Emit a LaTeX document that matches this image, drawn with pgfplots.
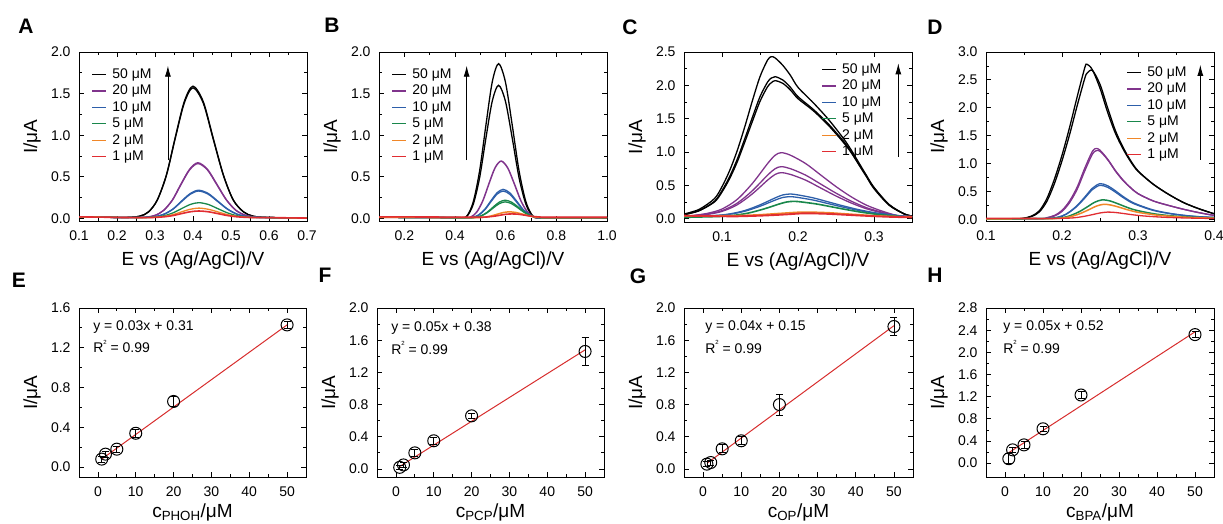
\documentclass[border=0pt]{standalone}
\usepackage{pgfplots}
\pgfplotsset{compat=1.18}
\usepackage{fontspec}
\setmainfont{Liberation Sans}
\usetikzlibrary{arrows.meta}
\definecolor{cpur}{RGB}{128,52,140}
\definecolor{cblu}{RGB}{45,95,170}
\definecolor{cgre}{RGB}{25,135,75}
\definecolor{cora}{RGB}{240,135,40}
\definecolor{cred}{RGB}{225,45,50}
\definecolor{fitred}{RGB}{215,45,45}
\pgfplotsset{
  panel/.style={
    scale only axis, width=228pt, height=169pt,
    axis line style={line width=0.9pt},
    tick align=inside, xtick pos=both, ytick pos=both,
    major tick length=5pt, minor tick length=3pt, minor tick num=1,
    tick style={line width=0.8pt, black},
    ticklabel style={font=\fontsize{14}{15}\selectfont},
    /pgf/number format/assume math mode=true,
    scaled ticks=false, enlargelimits=false,
    label style={font=\fontsize{19}{21}\selectfont},
    xlabel style={at={([yshift=-44pt]rel axis cs:0.5,0)}, anchor=base},
    ylabel style={at={([xshift=-47pt]rel axis cs:0,0.5)}, anchor=center},
    xticklabel style={yshift=-6.3pt},
    yticklabel style={xshift=-5pt, /pgf/number format/.cd, fixed, fixed zerofill, precision=1},
    legend style={draw=none, fill=none, anchor=north west,
      font=\fontsize{14}{15}\selectfont, inner xsep=0pt, inner ysep=0pt,
      row sep=1.7pt, column sep=4pt,
      nodes={inner sep=1.5pt, text height=9.7pt, text depth=2pt}},
    legend cell align=left,
    legend image code/.code={\draw[#1, line width=1.2pt] (0pt,0pt) -- (14pt,0pt);},
  },
  dpv/.style={panel, xlabel={E vs (Ag/AgCl)/V},
    xticklabel style={/pgf/number format/.cd, fixed, fixed zerofill, precision=1},
    ylabel={I/μA}},
  cal/.style={panel, ylabel={I/μA}, xmin=-5, xmax=55, xtick={0,10,20,30,40,50},
    xlabel style={at={([yshift=-40.5pt]rel axis cs:0.5,0)}, anchor=base},
    xticklabel style={/pgf/number format/.cd, fixed, precision=0}},
  cv/.style={smooth, line width=1.3pt, forget plot},
  pts/.style={only marks, mark=o, mark size=6pt, black, mark options={line width=1pt},
    error bars/.cd, y dir=both, y explicit,
    error bar style={line width=0.8pt, black},
    error mark options={rotate=90, mark size=3.5pt, line width=0.8pt, black}},
  fit/.style={fitred, line width=1pt, no marks},
}
\newcommand{\legsix}{%
  \addlegendimage{black}\addlegendentry{50 μM}
  \addlegendimage{cpur}\addlegendentry{20 μM}
  \addlegendimage{cblu}\addlegendentry{10 μM}
  \addlegendimage{cgre}\addlegendentry{5 μM}
  \addlegendimage{cora}\addlegendentry{2 μM}
  \addlegendimage{cred}\addlegendentry{1 μM}}
\newcommand{\Rsq}{R\raisebox{0.6em}{\fontsize{6}{6}\selectfont 2} = 0.99}
\begin{document}
\begin{tikzpicture}
\path[use as bounding box] (0,0) rectangle (1223pt,523pt);
% letters
\begin{scope}[every node/.style={font=\fontsize{21}{22}\selectfont\bfseries, anchor=center, inner sep=0pt}]
\node at (26pt,497pt) {A};
\node at (332pt,498pt) {B};
\node at (630pt,496pt) {C};
\node at (935pt,496pt) {D};
\node at (19pt,243pt) {E};
\node at (325pt,247.5pt) {F};
\node at (638pt,246.5pt) {G};
\node at (935pt,247.5pt) {H};
\end{scope}

% ---------------- A ----------------
\begin{axis}[dpv, at={(79pt,302pt)}, anchor=south west,
  xmin=0.1, xmax=0.7, ymin=-0.03, ymax=2.0,
  xtick={0.1,0.2,0.3,0.4,0.5,0.6,0.7}, ytick={0,0.5,1,1.5,2},
  legend style={at={(0.055,0.911)}}]
\legsix
\addplot[cv, black] coordinates {(0.100,0.020)(0.160,0.016)(0.220,0.012)(0.259,0.027)(0.283,0.080)(0.306,0.223)(0.330,0.524)(0.353,0.969)(0.377,1.404)(0.400,1.590)(0.427,1.404)(0.453,0.969)(0.480,0.524)(0.506,0.223)(0.533,0.080)(0.559,0.027)(0.600,0.012)(0.700,0.005)};
\addplot[cv, black] coordinates {(0.100,0.020)(0.160,0.016)(0.220,0.012)(0.259,0.027)(0.283,0.079)(0.306,0.221)(0.330,0.517)(0.353,0.957)(0.377,1.386)(0.400,1.570)(0.427,1.386)(0.453,0.957)(0.480,0.517)(0.506,0.221)(0.533,0.079)(0.559,0.027)(0.600,0.012)(0.700,0.005)};
\addplot[cv, cpur] coordinates {(0.100,0.020)(0.160,0.016)(0.240,0.011)(0.278,0.017)(0.301,0.039)(0.323,0.099)(0.346,0.225)(0.368,0.411)(0.391,0.592)(0.413,0.670)(0.438,0.592)(0.463,0.411)(0.488,0.225)(0.513,0.099)(0.538,0.039)(0.563,0.017)(0.600,0.011)(0.700,0.005)};
\addplot[cv, cpur] coordinates {(0.100,0.020)(0.160,0.016)(0.240,0.011)(0.278,0.017)(0.301,0.039)(0.323,0.098)(0.346,0.221)(0.368,0.404)(0.391,0.583)(0.413,0.660)(0.438,0.583)(0.463,0.404)(0.488,0.221)(0.513,0.098)(0.538,0.039)(0.563,0.017)(0.600,0.011)(0.700,0.005)};
\addplot[cv, cblu] coordinates {(0.100,0.020)(0.160,0.016)(0.240,0.011)(0.280,0.014)(0.303,0.025)(0.325,0.055)(0.348,0.117)(0.370,0.210)(0.393,0.301)(0.415,0.340)(0.440,0.301)(0.465,0.210)(0.490,0.117)(0.515,0.055)(0.540,0.025)(0.565,0.014)(0.600,0.011)(0.700,0.005)};
\addplot[cv, cblu] coordinates {(0.100,0.020)(0.160,0.016)(0.240,0.011)(0.280,0.014)(0.303,0.024)(0.325,0.053)(0.348,0.114)(0.370,0.204)(0.393,0.292)(0.415,0.330)(0.440,0.292)(0.465,0.204)(0.490,0.114)(0.515,0.053)(0.540,0.024)(0.565,0.014)(0.600,0.011)(0.700,0.005)};
\addplot[cv, cgre] coordinates {(0.100,0.020)(0.160,0.016)(0.240,0.011)(0.280,0.012)(0.303,0.018)(0.325,0.034)(0.348,0.069)(0.370,0.119)(0.393,0.169)(0.415,0.190)(0.440,0.169)(0.465,0.119)(0.490,0.069)(0.515,0.034)(0.540,0.018)(0.565,0.012)(0.600,0.011)(0.700,0.005)};
\addplot[cv, cora] coordinates {(0.100,0.020)(0.160,0.016)(0.240,0.011)(0.280,0.011)(0.303,0.015)(0.325,0.026)(0.348,0.047)(0.370,0.080)(0.393,0.111)(0.415,0.125)(0.440,0.111)(0.465,0.080)(0.490,0.047)(0.515,0.026)(0.540,0.015)(0.565,0.011)(0.600,0.011)(0.700,0.005)};
\addplot[cv, cred, line width=1.6pt] coordinates {(0.100,0.020)(0.160,0.016)(0.240,0.011)(0.280,0.011)(0.303,0.014)(0.325,0.021)(0.348,0.036)(0.370,0.059)(0.393,0.081)(0.415,0.090)(0.440,0.081)(0.465,0.059)(0.490,0.036)(0.515,0.021)(0.540,0.014)(0.565,0.011)(0.600,0.011)(0.700,0.005)};
\draw[-{Latex[length=11pt,width=6pt]}, line width=0.8pt] (axis cs:0.334,0.70) -- (axis cs:0.334,1.835);
\end{axis}

% ---------------- B ----------------
\begin{axis}[dpv, at={(379pt,302pt)}, anchor=south west,
  xmin=0.1, xmax=1.0, ymin=-0.03, ymax=2.0,
  xtick={0.2,0.4,0.6,0.8,1.0}, ytick={0,0.5,1,1.5,2},
  legend style={at={(0.055,0.911)}}]
\legsix
\addplot[cv, black] coordinates {(0.100,0.015)(0.300,0.012)(0.422,0.010)(0.447,0.030)(0.472,0.200)(0.497,0.570)(0.522,1.120)(0.547,1.640)(0.572,1.860)(0.599,1.640)(0.626,1.120)(0.653,0.570)(0.680,0.200)(0.707,0.030)(0.734,0.010)(0.850,0.010)(1.000,0.010)};
\addplot[cv, black] coordinates {(0.100,0.015)(0.300,0.012)(0.422,0.010)(0.447,0.026)(0.472,0.170)(0.497,0.487)(0.522,0.964)(0.547,1.409)(0.572,1.600)(0.599,1.409)(0.626,0.964)(0.653,0.487)(0.680,0.170)(0.707,0.026)(0.734,0.010)(0.850,0.010)(1.000,0.010)};
\addplot[cv, cpur, line width=1.5pt] coordinates {(0.100,0.015)(0.300,0.012)(0.438,0.010)(0.462,0.017)(0.486,0.078)(0.510,0.214)(0.534,0.418)(0.558,0.608)(0.582,0.690)(0.608,0.608)(0.634,0.418)(0.660,0.214)(0.686,0.078)(0.712,0.017)(0.738,0.010)(0.850,0.010)(1.000,0.010)};
\addplot[cv, cblu] coordinates {(0.100,0.015)(0.300,0.012)(0.446,0.010)(0.470,0.013)(0.494,0.044)(0.518,0.112)(0.542,0.214)(0.566,0.309)(0.590,0.350)(0.616,0.309)(0.642,0.214)(0.668,0.112)(0.694,0.044)(0.720,0.013)(0.746,0.010)(0.850,0.010)(1.000,0.010)};
\addplot[cv, cblu] coordinates {(0.100,0.015)(0.300,0.012)(0.446,0.010)(0.470,0.013)(0.494,0.042)(0.518,0.106)(0.542,0.202)(0.566,0.292)(0.590,0.330)(0.616,0.292)(0.642,0.202)(0.668,0.106)(0.694,0.042)(0.720,0.013)(0.746,0.010)(0.850,0.010)(1.000,0.010)};
\addplot[cv, cgre] coordinates {(0.100,0.015)(0.300,0.012)(0.454,0.010)(0.478,0.012)(0.502,0.031)(0.526,0.073)(0.550,0.136)(0.574,0.195)(0.598,0.220)(0.624,0.195)(0.650,0.136)(0.676,0.073)(0.702,0.031)(0.728,0.012)(0.754,0.010)(0.850,0.010)(1.000,0.010)};
\addplot[cv, cgre] coordinates {(0.100,0.015)(0.300,0.012)(0.454,0.010)(0.478,0.012)(0.502,0.029)(0.526,0.067)(0.550,0.124)(0.574,0.177)(0.598,0.200)(0.624,0.177)(0.650,0.124)(0.676,0.067)(0.702,0.029)(0.728,0.012)(0.754,0.010)(0.850,0.010)(1.000,0.010)};
\addplot[cv, cora, line width=1.5pt] coordinates {(0.100,0.015)(0.300,0.012)(0.471,0.010)(0.495,0.011)(0.519,0.017)(0.543,0.031)(0.567,0.052)(0.591,0.072)(0.615,0.080)(0.641,0.072)(0.667,0.052)(0.693,0.031)(0.719,0.017)(0.745,0.011)(0.771,0.010)(0.850,0.010)(1.000,0.010)};
\addplot[cv, cred, line width=1.6pt] coordinates {(0.100,0.020)(0.300,0.018)(0.481,0.015)(0.505,0.015)(0.529,0.019)(0.553,0.027)(0.577,0.039)(0.601,0.051)(0.625,0.055)(0.651,0.051)(0.677,0.039)(0.703,0.027)(0.729,0.019)(0.755,0.015)(0.781,0.015)(0.850,0.015)(1.000,0.015)};
\draw[-{Latex[length=11pt,width=6pt]}, line width=0.8pt] (axis cs:0.446,0.70) -- (axis cs:0.446,1.835);
\end{axis}

% ---------------- C ----------------
\begin{axis}[dpv, at={(684pt,301pt)}, anchor=south west, height=170pt,
  xmin=0.05, xmax=0.35, ymin=-0.05, ymax=2.5,
  xtick={0.1,0.2,0.3}, ytick={0,0.5,1,1.5,2,2.5},
  legend style={at={(0.602,0.941)}}]
\legsix
\addplot[cv, black] coordinates {(0.05,0.07)(0.07,0.14)(0.09,0.30)(0.10,0.48)(0.11,0.72)(0.12,1.02)(0.13,1.38)(0.14,1.77)(0.15,2.13)(0.16,2.38)(0.165,2.43)(0.17,2.41)(0.18,2.30)(0.19,2.15)(0.20,1.97)(0.22,1.74)(0.24,1.49)(0.26,1.20)(0.27,1.03)(0.28,0.84)(0.29,0.65)(0.30,0.47)(0.32,0.21)(0.34,0.07)(0.35,0.04)};
\addplot[cv, black] coordinates {(0.05,0.06)(0.07,0.12)(0.09,0.26)(0.10,0.42)(0.11,0.63)(0.12,0.89)(0.13,1.20)(0.14,1.52)(0.15,1.83)(0.16,2.05)(0.165,2.11)(0.17,2.13)(0.18,2.08)(0.19,1.97)(0.20,1.83)(0.22,1.64)(0.24,1.42)(0.26,1.16)(0.27,1.00)(0.28,0.82)(0.29,0.64)(0.30,0.46)(0.32,0.21)(0.34,0.07)(0.35,0.04)};
\addplot[cv, black] coordinates {(0.05,0.06)(0.07,0.12)(0.09,0.25)(0.10,0.40)(0.11,0.60)(0.12,0.85)(0.13,1.15)(0.14,1.46)(0.15,1.76)(0.16,1.98)(0.165,2.04)(0.17,2.07)(0.18,2.03)(0.19,1.93)(0.20,1.80)(0.22,1.62)(0.24,1.40)(0.26,1.14)(0.27,0.99)(0.28,0.81)(0.29,0.63)(0.30,0.45)(0.32,0.20)(0.34,0.07)(0.35,0.04)};
\addplot[cv, cpur] coordinates {(0.05,0.030)(0.08,0.078)(0.10,0.145)(0.12,0.289)(0.14,0.529)(0.16,0.827)(0.17,0.952)(0.178,0.990)(0.19,0.952)(0.21,0.827)(0.23,0.654)(0.25,0.481)(0.27,0.328)(0.29,0.203)(0.31,0.116)(0.33,0.049)(0.35,0.030)};
\addplot[cv, cpur] coordinates {(0.05,0.030)(0.08,0.068)(0.10,0.120)(0.12,0.233)(0.14,0.420)(0.16,0.653)(0.17,0.750)(0.178,0.780)(0.19,0.750)(0.21,0.653)(0.23,0.518)(0.25,0.383)(0.27,0.263)(0.29,0.165)(0.31,0.098)(0.33,0.045)(0.35,0.030)};
\addplot[cv, cpur] coordinates {(0.05,0.030)(0.08,0.063)(0.10,0.109)(0.12,0.208)(0.14,0.373)(0.16,0.578)(0.17,0.664)(0.178,0.690)(0.19,0.664)(0.21,0.578)(0.23,0.459)(0.25,0.340)(0.27,0.235)(0.29,0.149)(0.31,0.089)(0.33,0.043)(0.35,0.030)};
\addplot[cv, cblu] coordinates {(0.05,0.030)(0.09,0.047)(0.11,0.071)(0.13,0.122)(0.15,0.207)(0.17,0.312)(0.18,0.356)(0.19,0.370)(0.20,0.356)(0.22,0.312)(0.24,0.251)(0.26,0.190)(0.28,0.135)(0.30,0.091)(0.32,0.061)(0.34,0.037)(0.35,0.030)};
\addplot[cv, cblu] coordinates {(0.05,0.030)(0.09,0.045)(0.11,0.066)(0.13,0.111)(0.15,0.186)(0.17,0.279)(0.18,0.318)(0.19,0.330)(0.20,0.318)(0.22,0.279)(0.24,0.225)(0.26,0.171)(0.28,0.123)(0.30,0.084)(0.32,0.057)(0.34,0.036)(0.35,0.030)};
\addplot[cv, cgre, line width=1.6pt] coordinates {(0.05,0.020)(0.095,0.032)(0.115,0.049)(0.135,0.085)(0.155,0.145)(0.175,0.219)(0.185,0.250)(0.195,0.260)(0.205,0.250)(0.225,0.219)(0.245,0.176)(0.265,0.133)(0.285,0.094)(0.305,0.063)(0.325,0.042)(0.34,0.025)(0.35,0.020)};
\addplot[cv, cora, line width=1.5pt] coordinates {(0.05,0.040)(0.11,0.045)(0.13,0.050)(0.15,0.060)(0.17,0.075)(0.19,0.090)(0.20,0.097)(0.21,0.100)(0.22,0.098)(0.24,0.090)(0.26,0.075)(0.28,0.060)(0.30,0.045)(0.32,0.035)(0.34,0.030)(0.35,0.030)};
\addplot[cv, cred, line width=1.9pt] coordinates {(0.05,0.045)(0.11,0.035)(0.13,0.038)(0.15,0.045)(0.17,0.055)(0.19,0.068)(0.20,0.076)(0.21,0.080)(0.22,0.079)(0.24,0.072)(0.26,0.060)(0.28,0.048)(0.30,0.037)(0.32,0.028)(0.34,0.022)(0.35,0.020)};
\draw[-{Latex[length=11pt,width=6pt]}, line width=0.8pt] (axis cs:0.332,0.93) -- (axis cs:0.332,2.33);
\end{axis}

% ---------------- D ----------------
\begin{axis}[dpv, at={(986pt,302pt)}, anchor=south west,
  xmin=0.1, xmax=0.4, ymin=-0.03, ymax=3.0,
  xtick={0.1,0.2,0.3,0.4}, ytick={0,0.5,1,1.5,2,2.5,3},
  legend style={at={(0.616,0.923)}}]
\legsix
\addplot[cv, black] coordinates {(0.10,0.01)(0.14,0.01)(0.15,0.02)(0.16,0.06)(0.17,0.15)(0.18,0.37)(0.19,0.72)(0.20,1.15)(0.21,1.65)(0.22,2.20)(0.23,2.72)(0.233,2.78)(0.24,2.68)(0.25,2.35)(0.26,1.92)(0.27,1.55)(0.28,1.27)(0.29,1.04)(0.30,0.86)(0.32,0.63)(0.34,0.45)(0.36,0.30)(0.38,0.19)(0.40,0.10)};
\addplot[cv, black] coordinates {(0.10,0.01)(0.14,0.01)(0.15,0.02)(0.16,0.05)(0.17,0.13)(0.18,0.32)(0.19,0.64)(0.20,1.05)(0.21,1.52)(0.22,2.04)(0.23,2.53)(0.233,2.62)(0.24,2.67)(0.25,2.42)(0.26,2.00)(0.27,1.60)(0.28,1.30)(0.29,1.06)(0.30,0.87)(0.32,0.63)(0.34,0.45)(0.36,0.30)(0.38,0.19)(0.40,0.10)};
\addplot[cv, cpur] coordinates {(0.10,0.01)(0.17,0.01)(0.18,0.03)(0.19,0.07)(0.20,0.16)(0.21,0.33)(0.22,0.58)(0.23,0.92)(0.24,1.22)(0.245,1.27)(0.25,1.24)(0.26,1.08)(0.27,0.88)(0.28,0.71)(0.29,0.57)(0.30,0.46)(0.32,0.33)(0.34,0.25)(0.36,0.18)(0.38,0.12)(0.40,0.07)};
\addplot[cv, cpur] coordinates {(0.10,0.01)(0.17,0.01)(0.18,0.025)(0.19,0.06)(0.20,0.14)(0.21,0.30)(0.22,0.54)(0.23,0.87)(0.24,1.17)(0.245,1.23)(0.25,1.22)(0.26,1.07)(0.27,0.87)(0.28,0.70)(0.29,0.57)(0.30,0.46)(0.32,0.33)(0.34,0.25)(0.36,0.18)(0.38,0.12)(0.40,0.07)};
\addplot[cv, cblu] coordinates {(0.10,0.010)(0.18,0.016)(0.20,0.060)(0.21,0.136)(0.22,0.250)(0.23,0.400)(0.24,0.558)(0.25,0.640)(0.26,0.602)(0.27,0.514)(0.28,0.413)(0.29,0.325)(0.30,0.262)(0.32,0.168)(0.34,0.111)(0.36,0.073)(0.38,0.048)(0.40,0.035)};
\addplot[cv, cblu] coordinates {(0.10,0.010)(0.18,0.016)(0.20,0.058)(0.21,0.130)(0.22,0.238)(0.23,0.382)(0.24,0.532)(0.25,0.610)(0.26,0.574)(0.27,0.490)(0.28,0.394)(0.29,0.310)(0.30,0.250)(0.32,0.160)(0.34,0.106)(0.36,0.070)(0.38,0.046)(0.40,0.034)};
\addplot[cv, cgre, line width=1.5pt] coordinates {(0.10,0.010)(0.183,0.013)(0.203,0.037)(0.213,0.078)(0.223,0.139)(0.233,0.221)(0.243,0.306)(0.253,0.350)(0.263,0.330)(0.273,0.282)(0.283,0.228)(0.293,0.180)(0.303,0.146)(0.323,0.095)(0.343,0.064)(0.363,0.044)(0.383,0.030)(0.40,0.024)};
\addplot[cv, cora, line width=1.5pt] coordinates {(0.10,0.010)(0.185,0.013)(0.205,0.031)(0.215,0.062)(0.225,0.109)(0.235,0.171)(0.245,0.236)(0.255,0.270)(0.265,0.254)(0.275,0.218)(0.285,0.176)(0.295,0.140)(0.305,0.114)(0.325,0.075)(0.345,0.052)(0.365,0.036)(0.385,0.026)(0.40,0.020)};
\addplot[cv, cred] coordinates {(0.10,0.020)(0.19,0.016)(0.21,0.022)(0.22,0.034)(0.23,0.056)(0.24,0.084)(0.25,0.114)(0.26,0.130)(0.27,0.123)(0.28,0.106)(0.29,0.087)(0.30,0.070)(0.31,0.058)(0.33,0.040)(0.35,0.029)(0.37,0.022)(0.39,0.017)(0.40,0.015)};
\draw[-{Latex[length=11pt,width=6pt]}, line width=0.8pt] (axis cs:0.382,1.07) -- (axis cs:0.382,2.77);
\end{axis}

% ---------------- E ----------------
\begin{axis}[cal, at={(79pt,46pt)}, anchor=south west, width=227pt,
  ymin=-0.1, ymax=1.6, ytick={0,0.4,0.8,1.2,1.6}, xlabel={c\textsubscript{PHOH}/μM}]
\addplot[fit] coordinates {(1,0.08) (50,1.43)};
\addplot[pts] coordinates {(1,0.08) +- (0,0.03) (2,0.13) +- (0,0.03) (5,0.18) +- (0,0.03) (10,0.34) +- (0,0.04) (20,0.66) +- (0,0.05) (50,1.43) +- (0,0.04)};
\node[anchor=west, font=\fontsize{14}{15}\selectfont, inner sep=0pt] at (rel axis cs:0.062,0.889) {y = 0.03x + 0.31};
\node[anchor=west, font=\fontsize{14}{15}\selectfont, inner sep=0pt] at (rel axis cs:0.062,0.771) {\Rsq};
\end{axis}

% ---------------- F ----------------
\begin{axis}[cal, at={(377pt,46pt)}, anchor=south west, width=227pt,
  ymin=-0.1, ymax=2.0, ytick={0,0.4,0.8,1.2,1.6,2.0}, xlabel={c\textsubscript{PCP}/μM}]
\addplot[fit] coordinates {(1,0.03) (50,1.48)};
\addplot[pts] coordinates {(1,0.02) +- (0,0.03) (2,0.05) +- (0,0.03) (5,0.20) +- (0,0.04) (10,0.35) +- (0,0.04) (20,0.66) +- (0,0.03) (50,1.46) +- (0,0.17)};
\node[anchor=west, font=\fontsize{14}{15}\selectfont, inner sep=0pt] at (rel axis cs:0.062,0.882) {y = 0.05x + 0.38};
\node[anchor=west, font=\fontsize{14}{15}\selectfont, inner sep=0pt] at (rel axis cs:0.062,0.763) {\Rsq};
\end{axis}

% ---------------- G ----------------
\begin{axis}[cal, at={(684pt,46pt)}, anchor=south west, width=229pt,
  ymin=-0.1, ymax=2.0, ytick={0,0.4,0.8,1.2,1.6,2.0}, xlabel={c\textsubscript{OP}/μM}]
\addplot[fit] coordinates {(1,0.07) (50,1.78)};
\addplot[pts] coordinates {(1,0.06) +- (0,0.03) (2,0.08) +- (0,0.03) (5,0.25) +- (0,0.05) (10,0.35) +- (0,0.05) (20,0.80) +- (0,0.13) (50,1.77) +- (0,0.11)};
\node[anchor=west, font=\fontsize{14}{15}\selectfont, inner sep=0pt] at (rel axis cs:0.092,0.888) {y = 0.04x + 0.15};
\node[anchor=west, font=\fontsize{14}{15}\selectfont, inner sep=0pt] at (rel axis cs:0.092,0.769) {\Rsq};
\end{axis}

% ---------------- H ----------------
\begin{axis}[cal, at={(986pt,46pt)}, anchor=south west,
  ymin=-0.25, ymax=2.8, ytick={0,0.4,0.8,1.2,1.6,2.0,2.4,2.8}, xlabel={c\textsubscript{BPA}/μM}]
\addplot[fit] coordinates {(1,0.19) (50,2.37)};
\addplot[pts] coordinates {(1,0.08) +- (0,0.09) (2,0.24) +- (0,0.05) (5,0.33) +- (0,0.06) (10,0.62) +- (0,0.05) (20,1.23) +- (0,0.07) (50,2.32) +- (0,0.05)};
\node[anchor=west, font=\fontsize{14}{15}\selectfont, inner sep=0pt] at (rel axis cs:0.075,0.888) {y = 0.05x + 0.52};
\node[anchor=west, font=\fontsize{14}{15}\selectfont, inner sep=0pt] at (rel axis cs:0.075,0.769) {\Rsq};
\end{axis}
\end{tikzpicture}
\end{document}
